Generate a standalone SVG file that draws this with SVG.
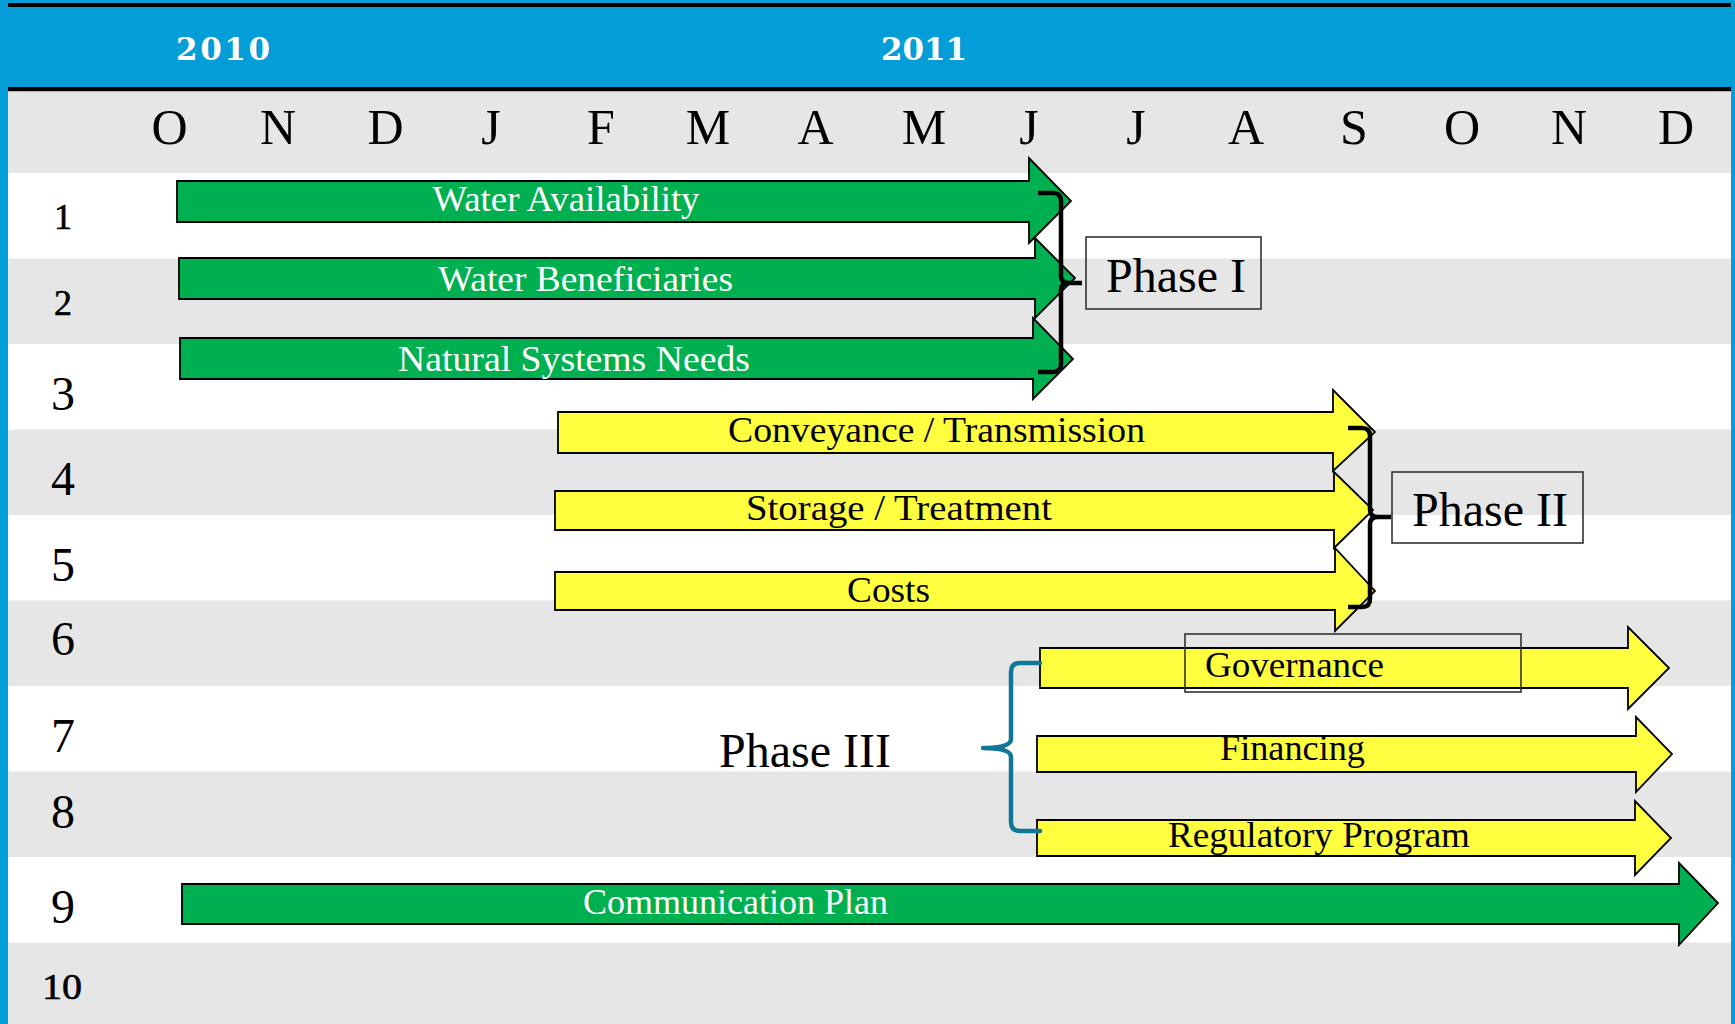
<svg xmlns="http://www.w3.org/2000/svg" width="1735" height="1024" viewBox="0 0 1735 1024">
<defs>
<style>
.band{fill:#E6E6E6}
.mon{font-family:"Liberation Serif",serif;font-size:50px;fill:#000;text-anchor:middle}
.yr{font-family:"DejaVu Serif",serif;font-weight:bold;font-size:31px;fill:#fff;text-anchor:middle}
.rn{font-family:"Liberation Serif",serif;fill:#000;text-anchor:middle}
.sm{font-size:36px;stroke:#000;stroke-width:0.6}
.lg{font-size:48px}
.g{fill:#00B050;stroke:#000;stroke-width:1.8;stroke-linejoin:miter}
.y{fill:#FFFF40;stroke:#000;stroke-width:1.8;stroke-linejoin:miter}
.lw{font-family:"Liberation Serif",serif;font-size:36px;fill:#fff;text-anchor:middle}
.lb{font-family:"Liberation Serif",serif;font-size:36px;fill:#000;text-anchor:middle}
.box{fill:none;stroke:#333;stroke-width:1.6}
.ph{font-family:"Liberation Serif",serif;font-size:48px;fill:#000}
.br{fill:none;stroke:#000;stroke-width:4.5;stroke-linecap:butt;stroke-linejoin:round}
.brt{fill:none;stroke:#117799;stroke-width:4.5;stroke-linecap:round;stroke-linejoin:round}
</style>
</defs>
<rect x="0" y="0" width="1735" height="1024" fill="#fff"/>
<g id="header">
<rect x="0" y="0" width="1735" height="91" fill="#039DD8"/>
<rect x="8" y="3" width="1723" height="4" fill="#000"/>
<rect x="8" y="87" width="1723" height="4.5" fill="#000"/>
<rect class="band" x="8" y="91.5" width="1723" height="81.5"/>
<text class="yr" x="223" y="60" textLength="94" lengthAdjust="spacing">2010</text>
<text class="yr" x="924" y="60" textLength="86" lengthAdjust="spacing">2011</text>
<text class="mon" x="169.5" y="144">O</text>
<text class="mon" x="278" y="144">N</text>
<text class="mon" x="385.5" y="144">D</text>
<text class="mon" x="491" y="144">J</text>
<text class="mon" x="601" y="144">F</text>
<text class="mon" x="708" y="144">M</text>
<text class="mon" x="815.5" y="144">A</text>
<text class="mon" x="924" y="144">M</text>
<text class="mon" x="1029" y="144">J</text>
<text class="mon" x="1136" y="144">J</text>
<text class="mon" x="1246" y="144">A</text>
<text class="mon" x="1354" y="144">S</text>
<text class="mon" x="1462" y="144">O</text>
<text class="mon" x="1569" y="144">N</text>
<text class="mon" x="1676" y="144">D</text>
</g>
<g id="rows">
<rect class="band" x="8" y="258.5" width="1723" height="85.5"/>
<rect class="band" x="8" y="429.5" width="1723" height="85.5"/>
<rect class="band" x="8" y="600.5" width="1723" height="85.5"/>
<rect class="band" x="8" y="771.5" width="1723" height="85.5"/>
<rect class="band" x="8" y="942.5" width="1723" height="81.5"/>
<rect x="0" y="0" width="8" height="1024" fill="#039DD8"/>
<rect x="1731" y="0" width="4" height="1024" fill="#039DD8"/>
<text class="rn sm" x="63" y="229">1</text>
<text class="rn sm" x="63" y="315">2</text>
<text class="rn lg" x="63" y="410">3</text>
<text class="rn lg" x="63" y="495">4</text>
<text class="rn lg" x="63" y="581">5</text>
<text class="rn lg" x="63" y="655">6</text>
<text class="rn lg" x="63" y="752">7</text>
<text class="rn lg" x="63" y="828">8</text>
<text class="rn lg" x="63" y="923">9</text>
<text class="rn sm" x="62" y="999" textLength="40" lengthAdjust="spacingAndGlyphs">10</text>
</g>
<g id="water-availability">
<polygon class="g" points="177,181 1029,181 1029,158 1071,201 1029,243 1029,222 177,222"/>
<text class="lw" x="566" y="211" textLength="267" lengthAdjust="spacingAndGlyphs">Water Availability</text>
</g>
<g id="water-beneficiaries">
<polygon class="g" points="179,258 1035,258 1035,238 1075,278 1035,318 1035,299 179,299"/>
<text class="lw" x="585.5" y="291" textLength="295" lengthAdjust="spacingAndGlyphs">Water Beneficiaries</text>
</g>
<g id="natural-systems-needs">
<polygon class="g" points="180,338 1033,338 1033,318 1073,359 1033,399 1033,379 180,379"/>
<text class="lw" x="574" y="371" textLength="352" lengthAdjust="spacingAndGlyphs">Natural Systems Needs</text>
</g>
<g id="conveyance-transmission">
<polygon class="y" points="558,412 1333,412 1333,390 1375,432 1333,471 1333,453 558,453"/>
<text class="lb" x="936.5" y="442" textLength="417" lengthAdjust="spacingAndGlyphs">Conveyance / Transmission</text>
</g>
<g id="storage-treatment">
<polygon class="y" points="555,491 1334,491 1334,472 1373,510 1334,548 1334,530 555,530"/>
<text class="lb" x="899" y="520" textLength="306" lengthAdjust="spacingAndGlyphs">Storage / Treatment</text>
</g>
<g id="costs">
<polygon class="y" points="555,572 1335,572 1335,548 1375,591 1335,631 1335,610 555,610"/>
<text class="lb" x="888.5" y="602" textLength="83" lengthAdjust="spacingAndGlyphs">Costs</text>
</g>
<g id="governance">
<polygon class="y" points="1040,648 1628,648 1628,627 1669,668 1628,709 1628,688 1040,688"/>
<rect class="box" x="1185" y="634" width="336" height="58"/>
<text class="lb" x="1294.5" y="677" textLength="179" lengthAdjust="spacingAndGlyphs">Governance</text>
</g>
<g id="financing">
<polygon class="y" points="1037,736 1636,736 1636,717 1672,754 1636,792 1636,772 1037,772"/>
<text class="lb" x="1292.5" y="760" textLength="145" lengthAdjust="spacingAndGlyphs">Financing</text>
</g>
<g id="regulatory-program">
<polygon class="y" points="1037,820 1635,820 1635,801 1671,838 1635,875 1635,856 1037,856"/>
<text class="lb" x="1319" y="847" textLength="302" lengthAdjust="spacingAndGlyphs">Regulatory Program</text>
</g>
<g id="communication-plan">
<polygon class="g" points="182,884 1679,884 1679,863 1718,903 1679,945 1679,924 182,924"/>
<text class="lw" x="735.5" y="914" textLength="305" lengthAdjust="spacingAndGlyphs">Communication Plan</text>
</g>
<g id="phase-1">
<rect class="box" x="1086" y="237" width="175" height="72"/>
<text class="ph" x="1106" y="292">Phase I</text>
</g>
<g id="phase-2">
<rect class="box" x="1392" y="472" width="191" height="71"/>
<text class="ph" x="1412" y="526">Phase II</text>
</g>
<g id="phase-3">
<text class="ph" x="719" y="767">Phase III</text>
</g>
<g id="connectors">
<path class="br" d="M1038,193 L1053,193 Q1061,193 1061,201 L1061,276 Q1061,283 1069,283 L1082,283 M1069,283 Q1061,283 1061,290 L1061,364 Q1061,372 1053,372 L1038,372"/>
<path class="br" d="M1348,428 L1362,428 Q1370,428 1370,436 L1370,510 Q1370,517 1378,517 L1391,517 M1378,517 Q1370,517 1370,524 L1370,599 Q1370,607 1362,607 L1348,607"/>
<path class="brt" d="M1040,663 L1020,663 Q1011,663 1011,672 L1011,739 Q1011,748 983,748 Q1011,748 1011,757 L1011,822 Q1011,831 1020,831 L1040,831"/>
</g>
</svg>
